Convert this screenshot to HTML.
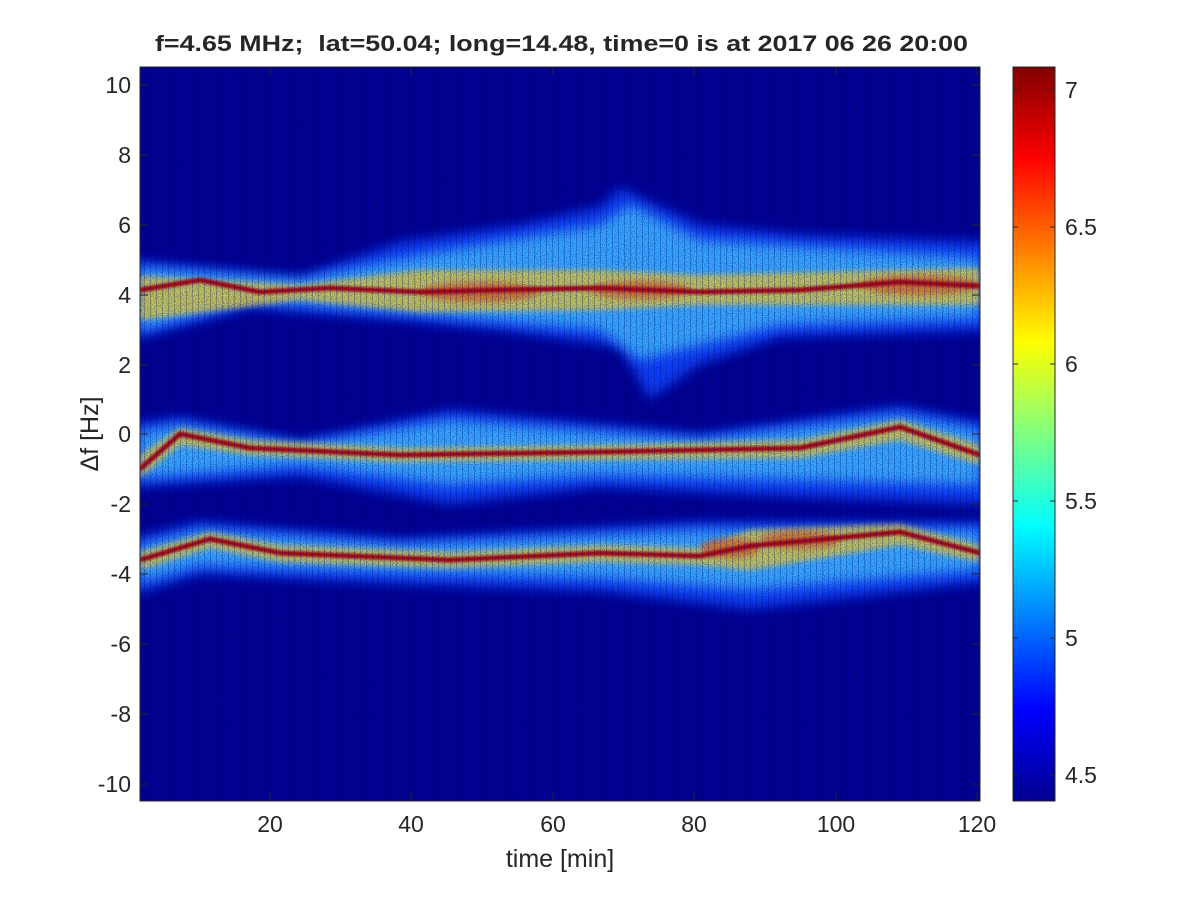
<!DOCTYPE html>
<html><head><meta charset="utf-8"><style>
body{margin:0;background:#fff;}
svg text{font-family:"Liberation Sans",sans-serif;fill:#262626;}
</style></head><body>
<svg width="1200" height="900" viewBox="0 0 1200 900">
<defs>
<clipPath id="pc"><rect x="140" y="67" width="840" height="734"/></clipPath>
<filter id="b6"><feGaussianBlur stdDeviation="6"/></filter>
<filter id="b3"><feGaussianBlur stdDeviation="3"/></filter>
<filter id="b1"><feGaussianBlur stdDeviation="1.2"/></filter>
<filter id="noise" x="0" y="0" width="100%" height="100%">
<feTurbulence type="fractalNoise" baseFrequency="0.9" numOctaves="1" seed="3"/>
<feColorMatrix type="matrix" values="0 0 0 0 0  0 0 0 0 0  0 0 0 0 0.45  0 0 0 -2.2 1.25"/>
</filter>
<linearGradient id="jet" x1="0" y1="1" x2="0" y2="0">
<stop offset="0" stop-color="#00008f"/>
<stop offset="0.125" stop-color="#0000ff"/>
<stop offset="0.375" stop-color="#00ffff"/>
<stop offset="0.625" stop-color="#ffff00"/>
<stop offset="0.875" stop-color="#ff0000"/>
<stop offset="1" stop-color="#800000"/>
</linearGradient>
<pattern id="stripes" width="6" height="10" patternUnits="userSpaceOnUse">
<rect x="0" y="0" width="1" height="10" fill="#000050" opacity="0.5"/>
</pattern>
</defs>
<rect x="0" y="0" width="1200" height="900" fill="#fff"/>
<g clip-path="url(#pc)">
<rect x="140" y="67" width="840" height="734" fill="#00008f"/>
<g filter="url(#b6)" fill="#0a46ff" opacity="0.95">
<path d="M130 260 L300 277 L400 242 L520 225 L600 207 L620 188 L700 225 L800 235 L990 242 L990 330 L780 337 L700 364 L650 399 L620 347 L500 330 L400 320 L250 308 L130 340 Z"/>
<path d="M130 424 L180 417 L300 441 L450 410 L700 434 L900 406 L990 424 L990 504 L800 497 L600 487 L450 504 L300 476 L130 487 Z"/>
<path d="M130 539 L200 522 L400 539 L700 522 L990 522 L990 581 L750 609 L600 591 L400 584 L200 574 L130 595 Z"/>
</g>
<g filter="url(#b6)" opacity="0.85">
<path fill="#40c0ff" d="M140 268 L300 280 L420 255 L600 225 L630 205 L700 240 L980 258 L980 318 L780 325 L700 345 L640 360 L600 330 L400 312 L250 300 L140 330 Z"/>
<path fill="#40c0ff" d="M140 432 L180 425 L300 445 L450 420 L700 440 L900 415 L980 430 L980 485 L800 480 L600 475 L450 485 L300 465 L140 478 Z"/>
<path fill="#40c0ff" d="M140 545 L200 530 L400 545 L700 530 L980 530 L980 570 L750 590 L600 578 L400 572 L200 565 L140 582 Z"/>
</g>
<g filter="url(#b3)" opacity="0.8">
<path fill="#e8d030" d="M140 276 L300 285 L420 270 L600 270 L700 275 L980 268 L980 305 L700 305 L600 310 L420 312 L300 300 L140 320 Z"/>
<path fill="#e8d030" d="M140 455 L180 428 L250 440 L400 448 L600 445 L800 440 L900 420 L980 445 L980 465 L900 440 L800 458 L600 460 L400 462 L250 455 L180 445 L140 478 Z"/>
<path fill="#e8d030" d="M140 552 L210 532 L280 545 L450 552 L600 545 L700 548 L750 530 L900 524 L980 545 L980 562 L900 545 L750 570 L700 565 L600 562 L450 568 L280 562 L210 548 L140 570 Z"/>
</g>
<g filter="url(#b3)" fill="#e05010" opacity="0.6">
<ellipse cx="480" cy="292" rx="60" ry="10"/>
<ellipse cx="640" cy="290" rx="50" ry="9"/>
<ellipse cx="920" cy="285" rx="60" ry="10"/>
<ellipse cx="730" cy="548" rx="30" ry="10"/>
<ellipse cx="800" cy="540" rx="40" ry="9"/>
</g>
<g fill="none" stroke="#b00000" stroke-width="5" filter="url(#b1)">
<path d="M140 290 L200 280 L260 292 L330 288 L420 292 L500 290 L600 288 L700 292 L800 290 L900 282 L980 286"/>
<path d="M140 469 L180 434 L250 448 L400 455 L600 452 L800 448 L900 427 L980 455"/>
<path d="M140 560 L210 539 L280 553 L450 560 L600 553 L700 556 L750 546 L900 532 L980 553"/>
</g>
<rect x="140" y="67" width="840" height="734" filter="url(#noise)" opacity="0.6"/>
<rect x="140" y="67" width="840" height="734" fill="url(#stripes)" opacity="0.5"/>
</g>
<rect x="140" y="67" width="840" height="734" fill="none" stroke="#262626" stroke-width="1"/>
<g stroke="#262626" stroke-width="1">
<path d="M270 801v-8M411 801v-8M553 801v-8M694 801v-8M836 801v-8M977 801v-8M270 67v8M411 67v8M553 67v8M694 67v8M836 67v8M977 67v8"/>
<path d="M140 85h8M140 155h8M140 225h8M140 295h8M140 365h8M140 434h8M140 504h8M140 574h8M140 644h8M140 714h8M140 784h8"/>
<path d="M980 85h-8M980 155h-8M980 225h-8M980 295h-8M980 365h-8M980 434h-8M980 504h-8M980 574h-8M980 644h-8M980 714h-8M980 784h-8"/>
</g>
<g font-size="23" text-anchor="middle">
<text x="270" y="832">20</text><text x="411" y="832">40</text><text x="553" y="832">60</text><text x="694" y="832">80</text><text x="836" y="832">100</text><text x="977" y="832">120</text>
</g>
<g font-size="23" text-anchor="end">
<text x="131" y="93">10</text><text x="131" y="163">8</text><text x="131" y="233">6</text><text x="131" y="303">4</text><text x="131" y="373">2</text><text x="131" y="442">0</text><text x="131" y="512">-2</text><text x="131" y="582">-4</text><text x="131" y="652">-6</text><text x="131" y="722">-8</text><text x="131" y="792">-10</text>
</g>
<text x="560" y="867" font-size="25" text-anchor="middle">time [min]</text>
<text transform="translate(98,434) rotate(-90)" font-size="25" text-anchor="middle">Δf [Hz]</text>
<text x="155" y="51" font-size="22" font-weight="bold" fill="#000" xml:space="preserve" textLength="813" lengthAdjust="spacingAndGlyphs">f=4.65 MHz;  lat=50.04; long=14.48, time=0 is at 2017 06 26 20:00</text>
<rect x="1013" y="67" width="42" height="734" fill="url(#jet)" stroke="#262626" stroke-width="1"/>
<g stroke="#262626"><path d="M1055 90h-5M1055 227h-5M1055 364h-5M1055 501h-5M1055 638h-5M1055 775h-5M1013 90h5M1013 227h5M1013 364h5M1013 501h5M1013 638h5M1013 775h5"/></g>
<g font-size="23">
<text x="1065" y="98">7</text><text x="1065" y="235">6.5</text><text x="1065" y="372">6</text><text x="1065" y="509">5.5</text><text x="1065" y="646">5</text><text x="1065" y="783">4.5</text>
</g>
</svg>
</body></html>
